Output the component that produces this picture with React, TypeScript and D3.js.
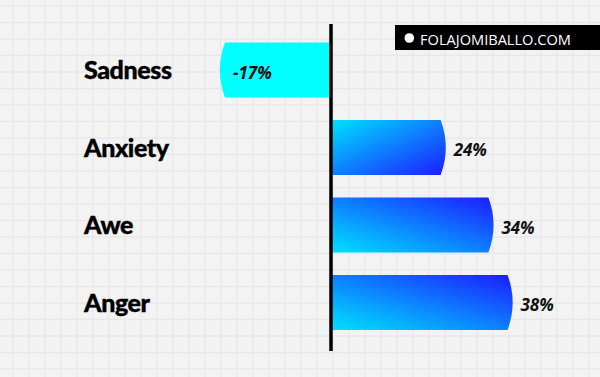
import React from "react";
import * as d3 from "d3";

const categories = ["Sadness", "Anxiety", "Awe", "Anger"];
const values = [-17, 24, 34, 38];
const valueLabels = ["-17%", "24%", "34%", "38%"];
const watermark = "FOLAJOMIBALLO.COM";

const W = 600;
const H = 377;

export default function App() {
  const x = d3.scaleLinear().domain([-17, 0, 38]).range([220, 331, 512.5]);
  const y = d3.scalePoint<string>().domain(categories).range([70, 302.5]);
  const barH = 55;
  const bulge = 5;
  const axisX = x(0);

  const gridX = d3.range(12.7, W, 16);
  const gridY = d3.range(6, H, 16.5);

  const barPath = (v: number, cy: number) => {
    const top = cy - barH / 2;
    const bot = cy + barH / 2;
    const end = x(v);
    const r = ((barH / 2) ** 2 + bulge ** 2) / (2 * bulge);
    if (v >= 0) {
      const fx = end - bulge;
      return `M${axisX + 1},${top}L${fx},${top}A${r},${r} 0 0 1 ${fx},${bot}L${axisX + 1},${bot}Z`;
    } else {
      const fx = end + bulge;
      return `M${axisX - 1},${top}L${fx},${top}A${r},${r} 0 0 0 ${fx},${bot}L${axisX - 1},${bot}Z`;
    }
  };

  return (
    <svg width={W} height={H} style={{ position: "absolute", left: 0, top: 0, display: "block" }}>
      <defs>
        <linearGradient id="gUp" x1="0" y1="1" x2="1" y2="0">
          <stop offset="0.05" stopColor="#00d8ff" />
          <stop offset="1" stopColor="#1c1cff" />
        </linearGradient>
        <linearGradient id="gDown" x1="0" y1="0" x2="1" y2="1">
          <stop offset="0.05" stopColor="#00d8ff" />
          <stop offset="1" stopColor="#1c1cff" />
        </linearGradient>
      </defs>
      <rect x={0} y={0} width={W} height={H} fill="#f3f3f3" />
      <g stroke="#e8e8e8" strokeWidth={1.3}>
        {gridX.map((gx, i) => (
          <line key={"gx" + i} x1={gx} x2={gx} y1={0} y2={H} />
        ))}
        {gridY.map((gy, i) => (
          <line key={"gy" + i} x1={0} x2={W} y1={gy} y2={gy} />
        ))}
      </g>

      {categories.map((c, i) => {
        const cy = y(c)!;
        const v = values[i];
        const fill = v < 0 ? "#00ffff" : i === 1 ? "url(#gDown)" : "url(#gUp)";
        return <path key={"b" + c} d={barPath(v, cy)} fill={fill} />;
      })}

      <line x1={axisX} x2={axisX} y1={24} y2={351} stroke="#000" strokeWidth={3.5} />

      {categories.map((c) => (
        <text
          key={"l" + c}
          x={84}
          y={y(c)!}
          dy="0.36em"
          fontFamily="Lato"
          fontWeight={900}
          fontSize={25}
          letterSpacing={-0.4}
          stroke="#000"
          strokeWidth={0.4}
          fill="#000"
        >
          {c}
        </text>
      ))}

      {categories.map((c, i) => {
        const v = values[i];
        const lx = v < 0 ? x(v) + 13 : x(v) + 8;
        return (
          <text
            key={"v" + c}
            x={lx}
            y={y(c)! + 2.5}
            dy="0.36em"
            fontFamily="Open Sans"
            fontWeight={700}
            fontStyle="italic"
            fontSize={17}
            fill="#111"
          >
            {valueLabels[i]}
          </text>
        );
      })}

      <rect x={395} y={25} width={W - 395} height={25} fill="#000" />
      <circle cx={409.3} cy={38} r={4.8} fill="#fff" />
      <text x={420} y={44.5} fontFamily="Open Sans" fontSize={14.6} fill="#fff">
        {watermark}
      </text>
    </svg>
  );
}
